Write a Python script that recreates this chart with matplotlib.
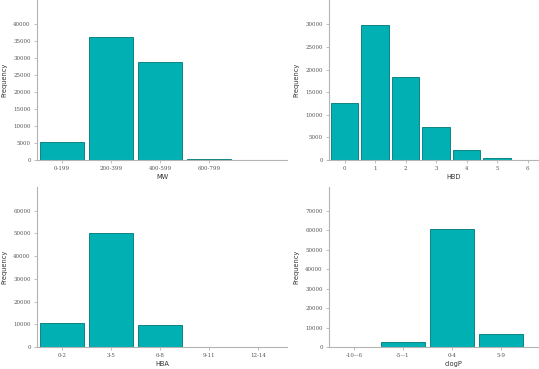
import matplotlib
matplotlib.use('Agg')
import matplotlib.pyplot as plt
import numpy as np

# ── data ────────────────────────────────────────────────────
mw_cats   = ["0-199", "200-399", "400-599", "600-799"]
mw_freq   = [5200, 36300, 28900, 300]

hbd_cats  = ["0", "1", "2", "3", "4", "5", "6"]
hbd_freq  = [12600, 29800, 18300, 7200, 2300, 380, 60]

hba_cats  = ["0-2", "3-5", "6-8", "9-11", "12-14"]
hba_freq  = [10700, 50200, 9600, 120, 60]

clogp_cats = ["-10\u2013-6", "-5\u2013-1", "0-4", "5-9"]
clogp_freq = [200, 2800, 60800, 6700]

BAR  = '#00b0b2'
EDGE = '#0d8486'
AXC  = '#b4b4b4'

W, H = 539, 369
fig = plt.figure(figsize=(W/100, H/100), dpi=100)

def px_axes(x0, y_zero, width, height):
    return fig.add_axes([x0/W, (H - y_zero)/H, width/W, height/H])

panels = [
    # left px, zero y px, slot spacing px, cats, freq, label, ymax, yticks
    (37,  160, 49.0, mw_cats,    mw_freq,    'MW',    47060, np.arange(0, 40001, 5000)),
    (329, 160, 30.5, hbd_cats,   hbd_freq,   'HBD',   35370, np.arange(0, 30001, 5000)),
    (37,  347, 49.0, hba_cats,   hba_freq,   'HBA',   70430, np.arange(0, 60001, 10000)),
    (329, 347, 49.0, clogp_cats, clogp_freq, 'clogP', 82170, np.arange(0, 70001, 10000)),
]

for left, yz, sp, cats, freq, lab, ymax, yt in panels:
    ax = px_axes(left, yz, 250, 160)
    x = np.arange(len(cats))
    ax.bar(x, freq, 0.9, color=BAR, edgecolor=EDGE, linewidth=0.7, zorder=2)
    ax.set_xlim(-0.51, -0.51 + 250/sp)
    ax.set_ylim(0, ymax)
    ax.set_xticks(x)
    ax.set_xticklabels(cats, family='DejaVu Serif', fontsize=4.0, color='#555555')
    ax.set_yticks(yt)
    ax.set_yticklabels([str(v) for v in yt], family='DejaVu Serif',
                       fontsize=4.0, color='#555555')
    ax.tick_params(length=2.5, width=0.6, color=AXC, pad=2)
    ax.set_xlabel(lab, fontsize=4.8, color='#333333', labelpad=2)
    ax.set_ylabel('Frequency', fontsize=4.8, color='#333333', labelpad=4.5)
    for s in ['top', 'right']:
        ax.spines[s].set_visible(False)
    for s in ['left', 'bottom']:
        ax.spines[s].set_color(AXC)
        ax.spines[s].set_linewidth(0.8)

fig.savefig('out.png', dpi=100)
